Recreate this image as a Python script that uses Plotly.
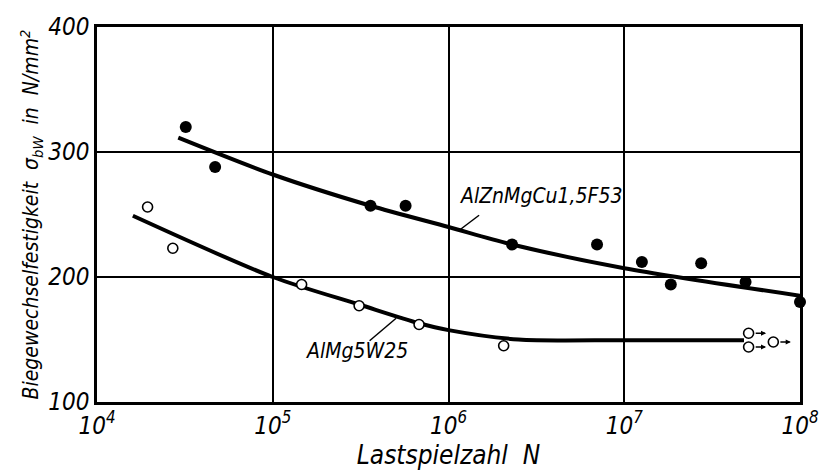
import numpy as np
import plotly.graph_objects as go

# Measured fatigue data (rotating bending), N = cycles, S = stress in N/mm²
# AlZnMgCu1,5 F53 — filled markers
znmg_N = [3.2e4, 4.7e4, 3.6e5, 5.7e5, 2.3e6, 7.0e6, 1.26e7, 1.84e7, 2.74e7, 4.9e7, 1.0e8]
znmg_S = [320, 288, 257, 257, 226, 226, 212, 194, 211, 196, 180]

# AlMg5 W25 — open markers
mg_N = [1.94e4, 2.7e4, 1.46e5, 3.1e5, 6.8e5, 2.06e6]
mg_S = [256, 223, 194, 177, 162, 145]

# AlMg5 W25 run-outs (no fracture)
runout_N = [5.1e7, 5.1e7, 7.05e7]
runout_S = [155, 144, 148]

# Fitted S-N curves (support points of the drawn mean curves)
znmg_fit_N = [2.9e4, 1e5, 3.6e5, 1e6, 2.3e6, 1e7, 1e8]
znmg_fit_S = [311.5, 282, 257, 240, 226, 207, 185]

mg_fit_N = [1.6e4, 1e5, 3.1e5, 6.8e5, 1e6, 2.5e6, 1e7, 4.8e7]
mg_fit_S = [249, 200, 178, 163, 157.5, 150, 149.5, 149.5]

# Axis ticks
x_tickvals = [1e4, 1e5, 1e6, 1e7, 1e8]
x_ticktext = ["10<sup>4</sup>", "10<sup>5</sup>", "10<sup>6</sup>", "10<sup>7</sup>", "10<sup>8</sup>"]
y_tickvals = [100, 200, 300, 400]

FONT = "DejaVu Sans Condensed, DejaVu Sans, sans-serif"

fig = go.Figure()

# Mean curves
for cx, cy in ((znmg_fit_N, znmg_fit_S), (mg_fit_N, mg_fit_S)):
    fig.add_trace(go.Scatter(x=cx, y=cy, mode="lines",
                             line=dict(color="black", width=4, shape="spline", smoothing=0.8),
                             hoverinfo="skip", showlegend=False))

# Measured points
fig.add_trace(go.Scatter(x=znmg_N, y=znmg_S, mode="markers",
                         marker=dict(color="black", size=12, line=dict(width=0)),
                         cliponaxis=False, name="AlZnMgCu1,5F53", showlegend=False))
fig.add_trace(go.Scatter(x=mg_N + runout_N, y=mg_S + runout_S, mode="markers",
                         marker=dict(color="white", size=10, line=dict(color="black", width=1.6)),
                         cliponaxis=False, name="AlMg5W25", showlegend=False))

# Leader lines from the labels to their curves
fig.add_trace(go.Scatter(x=[10**6.067, 10**6.174], y=[238, 249.4], mode="lines",
                         line=dict(color="black", width=1.5), hoverinfo="skip", showlegend=False))
fig.add_trace(go.Scatter(x=[10**5.702, 10**5.551], y=[167, 149], mode="lines",
                         line=dict(color="black", width=1.5), hoverinfo="skip", showlegend=False))

annotations = [
    dict(x=6.528, y=265, xref="x", yref="y", text="AlZnMgCu1,5F53", showarrow=False,
         font=dict(family=FONT, size=21, style="italic", color="black")),
    dict(x=5.478, y=141, xref="x", yref="y", text="AlMg5W25", showarrow=False,
         font=dict(family=FONT, size=21, style="italic", color="black")),
]

# Run-out arrows pointing to higher cycle counts
for n, s in zip(runout_N, runout_S):
    annotations.append(dict(x=np.log10(n) + 0.1, y=s, xref="x", yref="y",
                            ax=-12, ay=0, text="", showarrow=True,
                            arrowhead=2, arrowsize=0.8, arrowwidth=1.3, arrowcolor="black"))

fig.update_layout(
    width=831, height=474,
    margin=dict(l=97, r=22, t=27, b=71),
    paper_bgcolor="white", plot_bgcolor="white",
    font=dict(family=FONT, size=20, style="italic", color="black"),
    annotations=annotations,
    showlegend=False,
)

fig.update_xaxes(type="log", range=[4, 8], tickvals=x_tickvals, ticktext=x_ticktext,
                 showgrid=True, gridcolor="black", gridwidth=1.5,
                 showline=True, linecolor="black", linewidth=2.5, mirror=True,
                 ticks="", zeroline=False,
                 tickfont=dict(family=FONT, size=24, style="italic", color="black"),
                 title=dict(text="Lastspielzahl  N", standoff=4,
                            font=dict(family=FONT, size=26, style="italic", color="black")))
fig.update_yaxes(range=[100, 400], tickvals=y_tickvals,
                 showgrid=True, gridcolor="black", gridwidth=1.5,
                 showline=True, linecolor="black", linewidth=2.5, mirror=True,
                 ticks="", zeroline=False,
                 tickfont=dict(family=FONT, size=24, style="italic", color="black"),
                 title=dict(text="Biegewechselfestigkeit  σ<sub>bW</sub>  in  N/mm<sup>2</sup>",
                            standoff=4,
                            font=dict(family=FONT, size=21, style="italic", color="black")))

fig.write_html("out.html")
